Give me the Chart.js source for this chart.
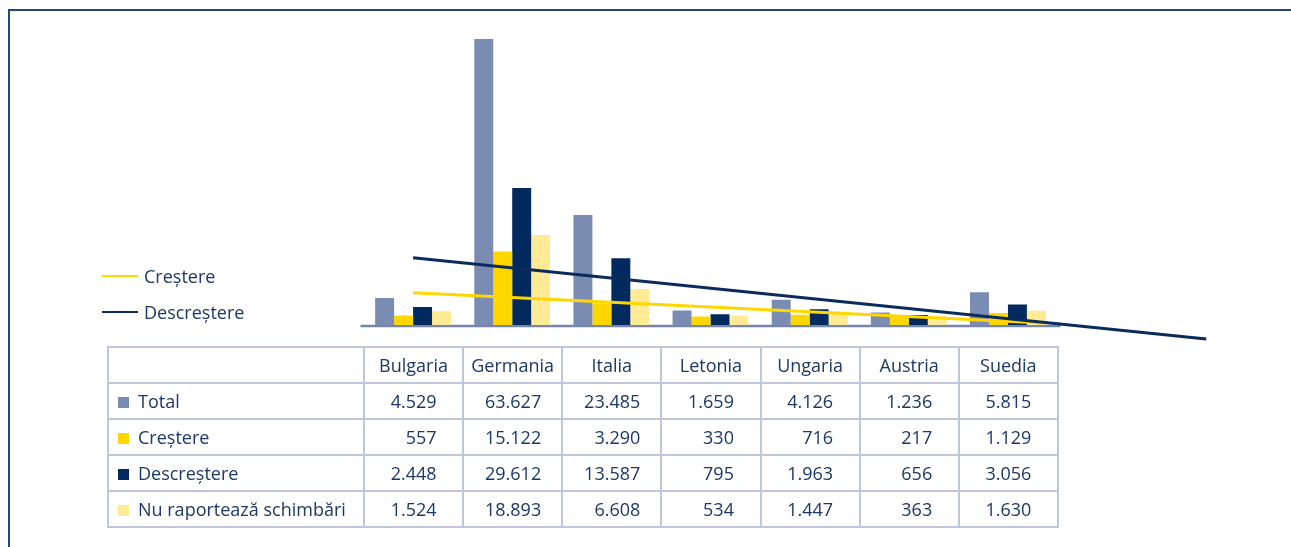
<!DOCTYPE html>
<html><head><meta charset="utf-8">
<script src="https://cdn.jsdelivr.net/npm/chart.js@4.4.0/dist/chart.umd.min.js"></script>
<style>
html,body{margin:0;padding:0;background:#fff;width:1291px;height:547px;overflow:hidden;font-family:"Open Sans",sans-serif;color:#1b3868}
#frame{position:absolute;left:8px;top:9px;right:0;bottom:0;border-top:2px solid #23457a;border-left:2px solid #23457a}
#cv,#cv2{position:absolute;left:0;top:0}
#legend{position:absolute;left:0;top:0}
.lg{position:absolute;left:102px;height:24px;font-size:18px;line-height:24px;white-space:nowrap}
.lg i{position:absolute;left:0;top:11px;width:36px;height:2px}
.lg span{position:absolute;left:42px;top:0}
#tbl{position:absolute;left:107px;top:346px;border-collapse:collapse;table-layout:fixed;font-size:18px;width:950px}
#tbl td{border:2px solid #bfc6dc;padding:0;height:34px;line-height:24px;white-space:nowrap;overflow:hidden}
#tbl td.h{text-align:center}
#tbl td.n{text-align:center}
#tbl td.n span{display:inline-block;text-align:right}
#tbl td.l{padding-left:9px}
#tbl td.l b{display:inline-block;width:11px;height:11px;margin-right:9px;vertical-align:0px}
</style></head>
<body>
<div id="frame"></div>
<canvas id="cv" width="1291" height="547"></canvas>
<canvas id="cv2" width="1291" height="547"></canvas>
<div id="legend"></div>
<table id="tbl"></table>
<script>
const categories = ["Bulgaria","Germania","Italia","Letonia","Ungaria","Austria","Suedia"];
const seriesNames = ["Total","Creștere","Descreștere","Nu raportează schimbări"];
const total = [4529,63627,23485,1659,4126,1236,5815];
const crestere = [557,15122,3290,330,716,217,1129];
const descrestere = [2448,29612,13587,795,1963,656,3056];
const nuRaporteaza = [1524,18893,6608,534,1447,363,1630];
const trendNames = ["Creștere","Descreștere"];
const trendCrestere = [{x:1,y:5740},{x:7.35,y:-1170}];
const trendDescrestere = [{x:1,y:13720},{x:9,y:-4820}];
const yMin = -1630, yMax = 70000;

const seriesValues = [total, crestere, descrestere, nuRaporteaza];
const seriesColors = ["#7b8cb3","#ffd700","#022a5e","#ffea96"];
const trendColors = ["#ffd700","#0b2b5c"];

function fmt(n){ return String(n).replace(/\B(?=(\d{3})+(?!\d))/g, '.'); }

const pad = {left:363.5,right:233.5,top:11,bottom:222};

const baseline = {
  id:'baseline',
  beforeDatasetsDraw(chart){
    const {ctx, chartArea:a} = chart;
    const y = chart.scales.y.getPixelForValue(yMin) + 1;
    ctx.save();
    ctx.strokeStyle = '#7785ab';
    ctx.lineWidth = 2.5;
    ctx.beginPath(); ctx.moveTo(a.left-3, y); ctx.lineTo(a.right+3, y); ctx.stroke();
    ctx.restore();
  }
};

new Chart(document.getElementById('cv'), {
  type:'bar',
  data:{labels:categories, datasets:seriesValues.map((v,i)=>({label:seriesNames[i], data:v, backgroundColor:seriesColors[i], base:yMin}))},
  options:{
    responsive:false, animation:false, events:[],
    layout:{padding:pad},
    plugins:{legend:{display:false}, tooltip:{enabled:false}},
    datasets:{bar:{categoryPercentage:0.765, barPercentage:1, borderWidth:0}},
    scales:{
      x:{display:false, offset:true},
      y:{display:false, min:yMin, max:yMax}
    }
  },
  plugins:[baseline]
});

new Chart(document.getElementById('cv2'), {
  type:'line',
  data:{datasets:[
    {label:trendNames[1], data:trendDescrestere, borderColor:trendColors[1], borderWidth:3, pointRadius:0, clip:false, fill:false},
    {label:trendNames[0], data:trendCrestere, borderColor:trendColors[0], borderWidth:3, pointRadius:0, clip:false, fill:false}
  ]},
  options:{
    responsive:false, animation:false, events:[],
    layout:{padding:pad},
    plugins:{legend:{display:false}, tooltip:{enabled:false}},
    scales:{
      x:{type:'linear', display:false, offset:false, min:0.5, max:categories.length+0.5},
      y:{display:false, min:yMin, max:yMax}
    }
  }
});

// legend for trend lines
const lg = document.getElementById('legend');
const legendTops = [264, 300];
trendNames.forEach((n,i)=>{
  const d = document.createElement('div');
  d.className='lg'; d.style.top = legendTops[i]+'px';
  d.innerHTML = '<i style="background:'+trendColors[i]+'"></i><span>'+n+'</span>';
  lg.appendChild(d);
});

// data table
const tbl = document.getElementById('tbl');
let html = '<colgroup><col style="width:256px">' + categories.map(()=>'<col style="width:99.14px">').join('') + '</colgroup>';
html += '<tr><td></td>' + categories.map(c=>'<td class="h">'+c+'</td>').join('') + '</tr>';
seriesNames.forEach((s,i)=>{
  html += '<tr><td class="l"><b style="background:'+seriesColors[i]+'"></b>'+s+'</td>' +
    seriesValues[i].map((v,j)=>'<td class="n"><span data-c="'+j+'">'+fmt(v)+'</span></td>').join('') + '</tr>';
});
tbl.innerHTML = html;
categories.forEach((c,j)=>{
  const sp = tbl.querySelectorAll('span[data-c="'+j+'"]');
  let m = 0; sp.forEach(s=>{ m = Math.max(m, s.getBoundingClientRect().width); });
  sp.forEach(s=>{ s.style.width = Math.ceil(m)+'px'; });
});
</script>
</body></html>
